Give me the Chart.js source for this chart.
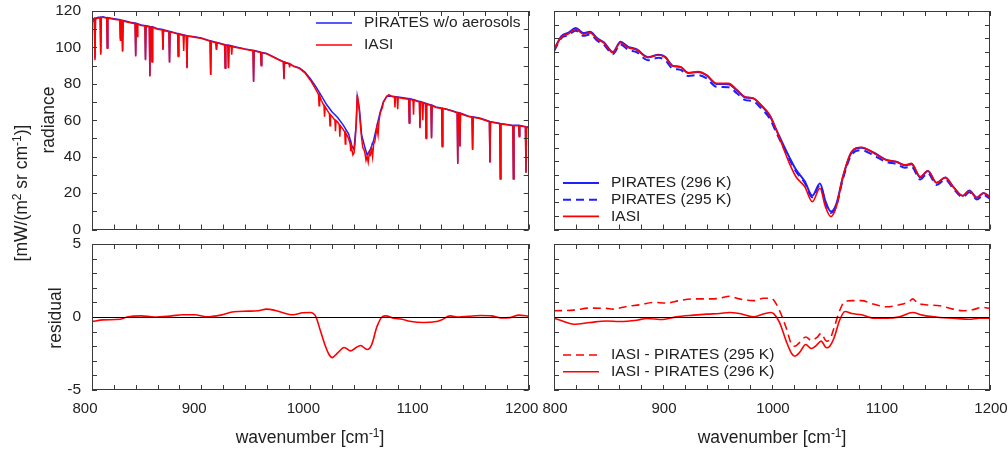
<!DOCTYPE html>
<html>
<head>
<meta charset="utf-8">
<script src="https://cdn.jsdelivr.net/npm/chart.js@4.4.0/dist/chart.umd.min.js"></script>
<style>
  html, body { margin: 0; padding: 0; background: #fff; }
  #page { position: relative; width: 1008px; height: 451px; overflow: hidden;
          font-family: "Liberation Sans", Arial, sans-serif; color: #222; }
  canvas { position: absolute; }
  .lbl { position: absolute; white-space: nowrap; font-size: 17.5px; transform: translate(-50%, -50%); }
  .rot { transform: translate(-50%, -50%) rotate(-90deg); }
  .sup { font-size: 0.68em; vertical-align: 0.5em; line-height: 0; }
</style>
</head>
<body>
<div id="page">
  <canvas id="radHi" width="540" height="240" style="left:0;top:0"></canvas>
  <canvas id="radLo" width="468" height="240" style="left:540px;top:0"></canvas>
  <canvas id="resHi" width="560" height="221" style="left:0;top:230px"></canvas>
  <canvas id="resLo" width="468" height="221" style="left:540px;top:230px"></canvas>

  <div class="lbl rot" style="left:21px;top:193px">[mW/(m<span class="sup">2</span> sr cm<span class="sup">-1</span>)]</div>
  <div class="lbl rot" style="left:48px;top:120px">radiance</div>
  <div class="lbl rot" style="left:55px;top:318px">residual</div>
  <div class="lbl" style="left:310px;top:437px">wavenumber [cm<span class="sup">-1</span>]</div>
  <div class="lbl" style="left:772px;top:437px">wavenumber [cm<span class="sup">-1</span>]</div>
</div>

<script>
// ---- data ----

// high resolution spectra, [wavenumber, radiance]
const iasiHiRes = [
  [800,113],[801,115],[802.2,115.5],[802.7,93],[803.2,115.5],[805,116],[807.5,116.3],[808,96],[808.5,116.3],
  [810,116.5],[813.5,116],[814,99.5],[814.5,116],[818,115.8],[820,115.5],[823,115.2],[825.5,115],[826,104],
  [826.5,114.8],[827.5,114.6],[828,97.6],[828.5,114.5],[832,114],[835,113.5],[839.5,113],[840,95],[840.5,113],
  [841,112.8],[841.5,106],[842,112.8],[845,112],[848.5,111.7],[849,93],[849.5,111.6],[852.5,111.2],[853,84],
  [853.5,111.1],[854.5,111],[855,92],[855.5,111],[860,110],[864.5,109.6],[865,98.6],[865.5,109.4],[868,109],
  [870.5,108.6],[871,91.6],[871.5,108.5],[875,108],[878.5,107.3],[879,95],[879.5,107.2],[883.5,106.6],[884,98],
  [884.5,106.6],[886.5,106.3],[887,88.5],[887.5,106.2],[890,106],[895,105.5],[900,105],[905,104],[908.2,103.4],
  [908.7,84.8],[909.2,103.3],[913.5,102.6],[914,98.6],[914.5,102.5],[918,102],[921.5,101.3],[922,88.5],
  [922.5,101.2],[924.5,101],[925,88.5],[925.5,101],[927.5,100.5],[928,96],[928.5,100.4],[932,100],[936,99.5],
  [940,99],[945,98.5],[947.5,98.2],[948,81],[948.5,98.1],[952,97.6],[954.5,97.2],[955,90],[955.5,97],[960,96.5],
  [965,95],[970,93.5],[975.3,92],[975.8,82.5],[976.3,91.8],[980.5,91.2],[981,89],[981.5,91],[985,89.5],[990,88.5],
  [995,86],[1000,82],[1003,79],[1005,77],[1007.5,74],[1008,68],[1008.5,73.5],[1010,71],[1012.5,68],[1013,62],
  [1013.5,67.5],[1015,66],[1017.5,63.5],[1018,57],[1018.5,63],[1020,62],[1022.5,60],[1023,54],[1023.5,59.8],
  [1025,59],[1026.5,57.5],[1027,51],[1027.5,57],[1030,55],[1031.5,53.5],[1032,47],[1032.5,53],[1035,50],
  [1036.5,47],[1037,43],[1037.5,46],[1038,44],[1039,41],[1040,42],[1041,48],[1042,58],[1043,74],[1044,70],
  [1045,64],[1046,56],[1047,50],[1048,45],[1049,44],[1050,42],[1051,38],[1052,40],[1053,37],[1054,42],[1055,41],
  [1056,45],[1057,40],[1058,47],[1059,48],[1061,56],[1062,52],[1063,60],[1064,64],[1066,67],[1067,70],[1069,72],
  [1070,73],[1072,74],[1075,73],[1077,72.8],[1077.5,67],[1078,72.8],[1079.5,72.6],[1080,66],[1080.5,72.5],
  [1085,72],[1090.1,71.5],[1090.6,58.4],[1091.1,71.5],[1094,71],[1094.5,63],[1095,71],[1099.9,70],[1100.4,55.6],
  [1100.9,70],[1102.5,69.6],[1103,60],[1103.5,69.5],[1105.5,69],[1106,50],[1106.5,68.9],[1110.5,68.1],[1111,50],
  [1111.5,68],[1115,67],[1120.3,66.5],[1120.8,45.5],[1121.3,66.4],[1125,66],[1130,65],[1134.5,64.1],[1135,36],
  [1135.5,64],[1136.5,63.8],[1137,45.5],[1137.5,63.7],[1140,63],[1145,62],[1148.1,61.7],[1148.6,43.7],
  [1149.1,61.6],[1155,61],[1160,60],[1164,59.2],[1164.5,36.7],[1165,59],[1170,58.5],[1173.5,58.1],[1174,27.7],
  [1174.5,58],[1180,57.5],[1185.5,57],[1186,27.7],[1186.5,57],[1190.8,57],[1191.3,51],[1191.8,57],[1195,56.5],
  [1197,56.3],[1197.5,31],[1198,56.2],[1200,56]
];

const piratesNoAerosol = [
  [800,114],[801,115.5],[802.2,116],[802.7,94],[803.2,116],[805,116.4],[807.5,116.6],[808,97],[808.5,116.6],
  [810,116.8],[813.5,116.3],[814,100],[814.5,116.3],[820,115.8],[825.5,115.3],[826,105],[826.5,115.1],
  [827.5,114.9],[828,98],[828.5,114.8],[835,113.8],[839.5,113.3],[840,95.5],[840.5,113.3],[845,112.3],
  [848.5,112],[849,93.5],[849.5,111.9],[852.5,111.5],[853,84.5],[853.5,111.4],[854.5,111.3],[855,92.5],
  [855.5,111.3],[860,110.3],[864.5,109.9],[865,99],[865.5,109.7],[870.5,108.9],[871,92],[871.5,108.8],
  [878.5,107.6],[879,95.5],[879.5,107.5],[886.5,106.5],[887,89],[887.5,106.4],[895,105.7],[900,105.2],
  [908.2,103.6],[908.7,85],[909.2,103.5],[913.5,102.8],[914,99],[914.5,102.7],[921.5,101.5],[922,89],
  [922.5,101.4],[924.5,101.2],[925,89],[925.5,101.2],[932,100.2],[940,99.2],[947.5,98.4],[948,81.5],[948.5,98.3],
  [954.5,97.4],[955,90.5],[955.5,97.2],[960,96.7],[970,93.7],[975.3,92.2],[975.8,83],[976.3,92],[985,89.7],
  [990,88.7],[995,86.5],[1000,82.8],[1005,78.5],[1010,73.5],[1015,68.5],[1020,64.5],[1025,61.5],[1030,57.5],
  [1035,52.5],[1038,46],[1040,44],[1042,58],[1043,73],[1045,66],[1047,52],[1050,45],[1052,41],[1055,44],
  [1058,49],[1061,57],[1064,64.5],[1067,70.3],[1070,73.2],[1075,73.2],[1080,72.8],[1085,72.3],[1090.1,71.8],
  [1090.6,59],[1091.1,71.8],[1095,71.3],[1099.9,70.3],[1100.4,56],[1100.9,70.3],[1105.5,69.3],[1106,50.5],
  [1106.5,69.2],[1110.5,68.4],[1111,50.5],[1111.5,68.3],[1115,67.3],[1120.3,66.7],[1120.8,46],[1121.3,66.6],
  [1130,65.2],[1134.5,64.3],[1135,36.5],[1135.5,64.2],[1136.5,64],[1137,46],[1137.5,63.9],[1145,62.2],
  [1148.1,61.9],[1148.6,44],[1149.1,61.8],[1155,61.2],[1164,59.4],[1164.5,37],[1165,59.2],[1173.5,58.3],
  [1174,28],[1174.5,58.2],[1185.5,57.2],[1186,28],[1186.5,57.2],[1190.8,57.2],[1191.3,51.5],[1191.8,57.2],
  [1197,56.5],[1197.5,31.5],[1198,56.4],[1200,56.2]
];

// smoothed spectra (right panels)
const wnLo = [800,807,813,820,827,833,840,846,854,861,868,876,886,896,902,909,916,923,932,940,949,960,968,975,
  983,990,998,1004,1010,1016,1022,1030,1037,1044,1049,1054,1059,1065,1073,1082,1093,1105,1114,1122,1128,1136,
  1143,1151,1159,1166,1175,1181,1188,1194,1200];
const iasiLo = [105.7,110.6,111.6,113.3,111.5,112.0,109.6,108.2,104.7,108.4,106.6,105.7,103.0,103.9,103.0,99.9,
  99.6,97.4,97.8,96.6,93.5,93.5,91.1,88.6,88.0,85.6,81.9,76.4,70.3,64.2,59.3,55.7,50.2,55.1,48.3,44.7,48.3,59.3,
  68.5,70.1,68.1,65.4,64.8,63.6,64.2,59.3,61.5,57.1,59.0,55.7,52.3,54.1,51.6,53.3,51.8];
const pirates296 = [105.8,110.9,112.0,113.8,111.9,112.4,109.9,108.5,105.0,108.7,106.9,105.9,103.1,104.0,103.2,99.9,
  99.55,97.3,97.65,96.4,93.3,93.2,90.85,88.45,88.0,85.4,81.6,76.5,71.3,66.4,61.95,57.65,52.35,56.8,50.35,46.55,
  49.3,59.1,68.26,69.95,68.2,65.5,64.8,63.5,63.9,59.1,61.4,57.1,59.05,55.8,52.4,54.25,51.7,53.4,51.9];
const pirates295 = [105.3,110.15,111.1,112.8,110.9,111.4,109.0,107.6,104.2,107.75,105.85,104.9,102.0,102.9,102.0,
  98.85,98.5,96.2,96.55,95.35,92.25,92.1,89.8,87.45,86.9,84.35,80.6,75.5,70.5,65.7,61.25,57.1,51.8,56.3,49.9,
  46.05,48.6,58.4,67.4,69.0,67.2,64.7,64.0,62.65,63.0,58.35,60.65,56.3,58.3,55.15,51.85,53.6,51.0,52.65,51.2];

// residuals
const wnResHi = [800,810,826,832,845,857,873,883,894,905,918,930,943,952,960,968,984,993,1000,1005,1009,1014,
  1017,1020,1025,1031,1037,1041,1046,1052,1056,1061,1066,1069,1076,1084,1091,1104,1114,1120,1128,1136,1145,
  1156,1166,1174,1183,1191,1200];
const residualHi = [-0.31,-0.2,-0.15,0,0.08,0,0.08,0.15,0.15,0.01,0.13,0.36,0.4,0.43,0.54,0.45,0.15,0.29,0.31,
  0.03,-0.89,-2.04,-2.55,-2.78,-2.46,-2.09,-2.32,-2.14,-1.95,-2.23,-1.93,-0.66,0.03,0.08,-0.08,-0.15,-0.29,
  -0.38,-0.33,-0.2,0.08,0,0.05,0.1,0.08,-0.06,-0.04,0.13,0.06];

const wnRes295 = [800,818,833,848,854,867,879,891,903,915,928,940,952,961,970,983,992,999,1002,1007,1013,1018,
  1021,1025,1031,1036,1041,1045,1050,1053,1057,1062,1067,1073,1082,1093,1105,1117,1126,1129,1134,1141,1154,
  1166,1175,1184,1193,1200];
const res295 = [0.43,0.47,0.61,0.59,0.54,0.73,0.84,1.0,0.96,1.12,1.24,1.24,1.28,1.42,1.24,1.12,1.28,1.28,1.12,
  0.43,-0.73,-1.88,-2.0,-1.77,-1.37,-1.6,-1.42,-1.12,-1.65,-1.54,-0.73,0.43,1.07,1.12,1.12,0.89,0.7,0.84,1.07,
  1.24,0.94,0.84,0.77,0.54,0.43,0.5,0.66,0.59];

const wnRes296 = [800,809,818,833,848,860,876,885,900,912,928,940,952,961,970,983,992,999,1002,1007,1013,1018,
  1021,1025,1031,1036,1041,1045,1050,1053,1057,1062,1067,1073,1082,1093,1105,1117,1129,1138,1154,1166,1181,
  1190,1200];
const res296 = [-0.08,-0.31,-0.5,-0.38,-0.27,-0.31,-0.22,-0.1,-0.17,0.01,0.13,0.2,0.24,0.31,0.24,0.01,0.2,0.31,
  0.2,-0.38,-1.65,-2.5,-2.69,-2.46,-1.88,-2.16,-1.93,-1.65,-2.11,-2.0,-1.42,-0.22,0.38,0.24,0.15,-0.08,-0.08,
  0.01,0.31,0.13,-0.03,-0.08,-0.15,-0.08,-0.08];

const radianceTicks = [0, 20, 40, 60, 80, 100, 120];
const residualTicks = [-5, 0, 5];
const wavenumberTicks = [800, 900, 1000, 1100, 1200];

// ---- helpers ----
const RED = '#ff0000';
const BLUE = '#1f1fff';
const FONT = '"Liberation Sans", Arial, sans-serif';

const pairs = list => list.map(([x, y]) => ({ x, y }));
const zip = (xs, ys) => xs.map((x, i) => ({ x, y: ys[i] }));

// no extra room for edge labels, the page is laid out by hand
function noPadding(s) {
    s.paddingTop = 0;
    s.paddingBottom = 0;
    s.paddingLeft = 0;
    s.paddingRight = 0;
}

// gnuplot style frame: border, inward ticks on all four sides, zero line
const frame = {
    id: 'frame',
    afterDraw(chart, args, opts) {
        const { ctx, chartArea: a, scales: { x, y } } = chart;
        ctx.save();
        ctx.strokeStyle = '#3a3a3a';
        ctx.lineWidth = 1;
        ctx.beginPath();
        x.ticks.forEach(t => {
            const px = Math.round(x.getPixelForValue(t.value)) + 0.5;
            ctx.moveTo(px, a.bottom); ctx.lineTo(px, a.bottom - 5);
            ctx.moveTo(px, a.top); ctx.lineTo(px, a.top + 5);
        });
        y.ticks.forEach(t => {
            const py = Math.round(y.getPixelForValue(t.value)) + 0.5;
            ctx.moveTo(a.left, py); ctx.lineTo(a.left + 5, py);
            ctx.moveTo(a.right, py); ctx.lineTo(a.right - 5, py);
        });
        ctx.stroke();
        if (opts.zero) {
            const py = Math.round(y.getPixelForValue(0)) + 0.5;
            ctx.strokeStyle = '#000';
            ctx.beginPath(); ctx.moveTo(a.left, py); ctx.lineTo(a.right, py); ctx.stroke();
        }
        ctx.strokeStyle = '#3a3a3a';
        ctx.strokeRect(Math.round(a.left) + 0.5, Math.round(a.top) + 0.5,
                       Math.round(a.width) - 1, Math.round(a.height) - 1);
        ctx.restore();
    }
};

// key drawn inside the plot area
const keyBox = {
    id: 'keyBox',
    afterDraw(chart, args, o) {
        if (o.x === undefined) return;
        const { ctx, chartArea: a } = chart;
        ctx.save();
        ctx.font = '15.5px ' + FONT;
        ctx.textBaseline = 'middle';
        ctx.fillStyle = '#222';
        chart.data.datasets.forEach((d, i) => {
            const yy = a.top + o.y + i * o.row;
            ctx.strokeStyle = d.borderColor;
            ctx.lineWidth = d.borderWidth;
            ctx.setLineDash(d.borderDash || []);
            ctx.beginPath();
            ctx.moveTo(a.left + o.x, yy);
            ctx.lineTo(a.left + o.x + 36, yy);
            ctx.stroke();
            ctx.fillText(d.label, a.left + o.x + 48, yy);
        });
        ctx.restore();
    }
};

function panel(id, o) {
    return new Chart(document.getElementById(id), {
        type: 'line',
        data: { datasets: o.datasets },
        options: {
            responsive: false,
            animation: false,
            events: [],
            layout: { padding: o.pad },
            elements: { point: { radius: 0 } },
            plugins: {
                legend: { display: false },
                tooltip: { enabled: false },
                frame: { zero: o.zero },
                keyBox: o.key || {}
            },
            scales: {
                x: {
                    type: 'linear',
                    min: 800,
                    max: 1200,
                    afterFit: s => { s.height = o.xh; noPadding(s); },
                    border: { display: false },
                    grid: { display: false, drawTicks: false },
                    ticks: {
                        display: o.xLabels,
                        stepSize: 20,
                        autoSkip: false,
                        maxRotation: 0,
                        padding: 10,
                        labelOffset: o.xShift || 0,
                        color: '#222',
                        font: { family: FONT, size: 15 },
                        callback: v => wavenumberTicks.includes(v) ? String(v) : ''
                    }
                },
                y: {
                    min: o.yMin,
                    max: o.yMax,
                    afterFit: s => { s.width = o.yw; noPadding(s); },
                    border: { display: false },
                    grid: { display: false, drawTicks: false },
                    ticks: {
                        display: !!o.yLabels,
                        stepSize: o.yStep,
                        autoSkip: false,
                        padding: 11,
                        color: '#222',
                        font: { family: FONT, size: 15.5 },
                        callback: v => (o.yLabels && o.yLabels.includes(v)) ? String(v) : ''
                    }
                }
            }
        },
        plugins: [frame, keyBox]
    });
}

// ---- high resolution radiance ----
panel('radHi', {
    pad: { top: 11, right: 11.3, left: 0, bottom: 0 },
    yw: 92, xh: 10.5, xLabels: false,
    yMin: 0, yMax: 120, yStep: 10, yLabels: radianceTicks,
    key: { x: 224, y: 12, row: 22 },
    datasets: [
        { label: 'PIRATES w/o aerosols', data: pairs(piratesNoAerosol), borderColor: BLUE,
          borderWidth: 1.5, order: 1 },
        { label: 'IASI', data: pairs(iasiHiRes), borderColor: RED, borderWidth: 1.5, order: 0 }
    ]
});

// ---- smoothed radiance ----
panel('radLo', {
    pad: { top: 11, right: 18, left: 0, bottom: 0 },
    yw: 14, xh: 10.5, xLabels: false,
    yMin: 40, yMax: 120, yStep: 5,
    key: { x: 9, y: 172, row: 16.7 },
    datasets: [
        { label: 'PIRATES (296 K)', data: zip(wnLo, pirates296), borderColor: BLUE, borderWidth: 2,
          cubicInterpolationMode: 'monotone', order: 2 },
        { label: 'PIRATES (295 K)', data: zip(wnLo, pirates295), borderColor: BLUE, borderWidth: 2,
          borderDash: [8, 5], cubicInterpolationMode: 'monotone', order: 1 },
        { label: 'IASI', data: zip(wnLo, iasiLo), borderColor: RED, borderWidth: 1.6,
          cubicInterpolationMode: 'monotone', order: 0 }
    ]
});

// ---- residual, high resolution ----
panel('resHi', {
    pad: { top: 14, right: 31.3, left: 0, bottom: 0 },
    yw: 92, xh: 61, xLabels: true, xShift: -7, zero: true,
    yMin: -5, yMax: 5, yStep: 1, yLabels: residualTicks,
    datasets: [
        { label: 'IASI - PIRATES', data: zip(wnResHi, residualHi), borderColor: RED, borderWidth: 1.6,
          cubicInterpolationMode: 'monotone' }
    ]
});

// ---- residual, smoothed ----
panel('resLo', {
    pad: { top: 14, right: 18, left: 0, bottom: 0 },
    yw: 14, xh: 61, xLabels: true, xShift: 1, zero: true,
    yMin: -5, yMax: 5, yStep: 1,
    key: { x: 9, y: 111, row: 16.7 },
    datasets: [
        { label: 'IASI - PIRATES (295 K)', data: zip(wnRes295, res295), borderColor: RED, borderWidth: 1.6,
          borderDash: [8, 5], cubicInterpolationMode: 'monotone' },
        { label: 'IASI - PIRATES (296 K)', data: zip(wnRes296, res296), borderColor: RED, borderWidth: 1.6,
          cubicInterpolationMode: 'monotone' }
    ]
});
</script>
</body>
</html>
